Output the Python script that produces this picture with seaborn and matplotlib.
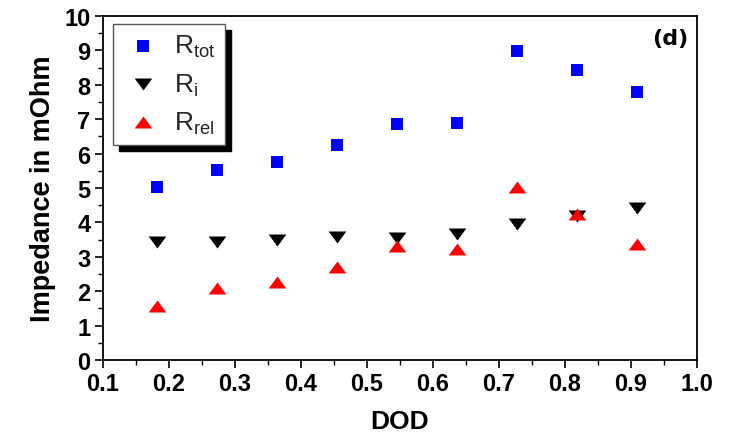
import numpy as np
import pandas as pd
import matplotlib
matplotlib.use("Agg")
import matplotlib.pyplot as plt
from matplotlib.path import Path
import seaborn as sns

# ---- data ----
dod = [0.182, 0.273, 0.364, 0.455, 0.545, 0.636, 0.727, 0.818, 0.909]
r_tot = [5.04, 5.52, 5.76, 6.25, 6.86, 6.88, 8.98, 8.43, 7.78]
r_i = [3.44, 3.44, 3.50, 3.57, 3.54, 3.66, 3.95, 4.19, 4.41]
r_rel = [1.58, 2.08, 2.26, 2.69, 3.32, 3.23, 5.04, 4.24, 3.37]
x_ticks = [0.1, 0.2, 0.3, 0.4, 0.5, 0.6, 0.7, 0.8, 0.9, 1.0]
y_ticks = list(range(0, 11))

sns.set_theme(style="ticks")
plt.rcParams["font.family"] = ["Liberation Sans", "DejaVu Sans"]
plt.rcParams["mathtext.fontset"] = "custom"
plt.rcParams["mathtext.rm"] = "Liberation Sans"
plt.rcParams["mathtext.it"] = "Liberation Sans"

fig = plt.figure(figsize=(7.3, 4.35), dpi=100)
ax = fig.add_axes([103 / 730, 74 / 435, 594 / 730, 344 / 435])

df = pd.DataFrame({"DOD": dod, "tot": r_tot, "i": r_i, "rel": r_rel})

up_tri = Path([(-1, -0.68), (1, -0.68), (0, 0.68), (-1, -0.68)],
              [Path.MOVETO, Path.LINETO, Path.LINETO, Path.CLOSEPOLY])
down_tri = Path([(-1, 0.68), (1, 0.68), (0, -0.68), (-1, 0.68)],
                [Path.MOVETO, Path.LINETO, Path.LINETO, Path.CLOSEPOLY])

sns.scatterplot(data=df, x="DOD", y="tot", marker="s", s=9.3 ** 2, color="#0000ff",
                edgecolor="#0000ff", linewidth=0, ax=ax, label=r"R$_{\mathrm{tot}}$", zorder=3)
sns.scatterplot(data=df, x="DOD", y="i", marker=down_tri, s=12.7 ** 2, color="black",
                edgecolor="black", linewidth=0, ax=ax, label=r"R$_{\mathrm{i}}$", zorder=3)
sns.scatterplot(data=df, x="DOD", y="rel", marker=up_tri, s=12.7 ** 2, color="#ff0000",
                edgecolor="#ff0000", linewidth=0, ax=ax, label=r"R$_{\mathrm{rel}}$", zorder=4)

ax.set_xlim(0.1, 1.0)
ax.set_ylim(0, 10)
ax.set_xticks(x_ticks)
ax.set_xticklabels([f"{v:.1f}" for v in x_ticks])
ax.set_yticks(y_ticks)
ax.set_yticklabels([str(v) for v in y_ticks])
ax.set_xticks(np.arange(0.15, 1.0, 0.1), minor=True)
ax.set_yticks(np.arange(0.5, 10, 1.0), minor=True)

for sp in ax.spines.values():
    sp.set_visible(True)
    sp.set_color("black")
    sp.set_linewidth(1.3)

ax.tick_params(axis="both", which="major", direction="out", length=6, width=1.2,
               color="black", labelsize=17, pad=3, top=False, right=False)
ax.tick_params(axis="both", which="minor", direction="out", length=3.5, width=1.0,
               color="black", top=False, right=False)
for lab in ax.get_xticklabels() + ax.get_yticklabels():
    lab.set_fontweight("bold")
    lab.set_color("black")

ax.set_xlabel("DOD", fontsize=19, fontweight="bold", color="black", labelpad=10)
ax.set_ylabel("Impedance in mOhm", fontsize=19.5, fontweight="bold", color="black",
              labelpad=6)

ax.text(0.986, 0.935, "(d)", transform=ax.transAxes, ha="right", va="center",
        fontsize=16, fontweight="bold", family=["DejaVu Sans"], color="black")

leg = ax.legend(loc="upper left", bbox_to_anchor=(10 / 594, 1 - 8 / 344),
                borderaxespad=0, fontsize=19, frameon=True, fancybox=False,
                edgecolor="#555555", framealpha=1,
                shadow={"ox": 4.5, "oy": -4.5, "color": "black", "alpha": 1},
                handletextpad=0.35, labelspacing=0.45, borderpad=0.35,
                handlelength=1.6, markerscale=1.0)
leg.get_frame().set_linewidth(1.0)

fig.savefig("out.png", dpi=100, facecolor="white")
